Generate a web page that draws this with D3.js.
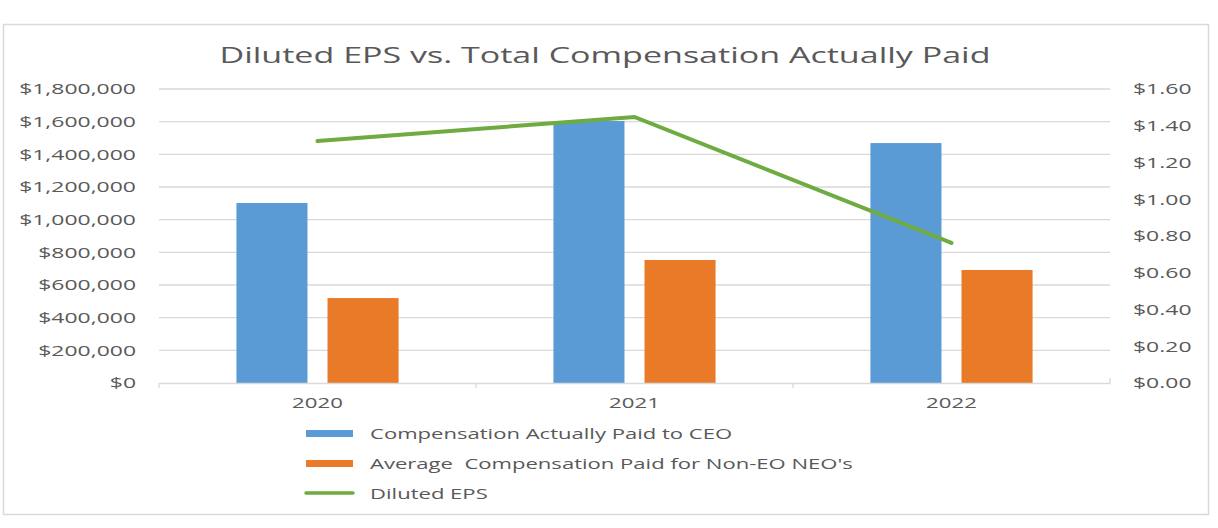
<!DOCTYPE html>
<html>
<head>
<meta charset="utf-8">
<script src="https://cdn.jsdelivr.net/npm/d3@7"></script>
<style>
  body { margin: 0; background: #fff; }
  text { font-family: "Open Sans", sans-serif; fill: #595959; white-space: pre; }
</style>
</head>
<body>
<div id="chart"></div>
<script>
// Data
const years = ["2020", "2021", "2022"];
const ceoPaid = [1102000, 1604000, 1469000];
const neoPaid = [520000, 753000, 692000];
const eps = [1.317, 1.448, 0.762];
const leftTicks = [0, 200000, 400000, 600000, 800000, 1000000, 1200000, 1400000, 1600000, 1800000];
const rightTicks = [0, 0.2, 0.4, 0.6, 0.8, 1.0, 1.2, 1.4, 1.6];
const seriesNames = ["Compensation Actually Paid to CEO", "Average  Compensation Paid for Non-EO NEO's", "Diluted EPS"];

const width = 1218, height = 528;
const blue = "#5B9BD5", orange = "#E87A28", green = "#6EAB40";

const svg = d3.select("#chart")
    .append("svg")
    .attr("width", width)
    .attr("height", height);

// outer frame
svg.append("rect")
    .attr("x", 3.5).attr("y", 24.5)
    .attr("width", 1205).attr("height", 490)
    .attr("fill", "none")
    .attr("stroke", "#d9d9d9")
    .attr("stroke-width", 1.5);

const plot = { left: 159, right: 1110, top: 89, bottom: 383 };

const x = d3.scaleBand()
    .domain(years)
    .range([plot.left, plot.right]);

const yLeft = d3.scaleLinear()
    .domain([0, 1800000])
    .range([plot.bottom, plot.top]);

const yRight = d3.scaleLinear()
    .domain([0, 1.6])
    .range([plot.bottom, plot.top]);

// the picture's text is stretched sideways, so widen glyphs by a factor
const widen = (k) => (sel) => sel.each(function () {
    const len = this.getComputedTextLength();
    d3.select(this).attr("textLength", len * k).attr("lengthAdjust", "spacingAndGlyphs");
});

// gridlines
svg.append("g")
    .selectAll("line")
    .data(leftTicks.slice(1))
    .enter().append("line")
    .attr("x1", plot.left).attr("x2", plot.right)
    .attr("y1", d => yLeft(d)).attr("y2", d => yLeft(d))
    .attr("stroke", "#d9d9d9")
    .attr("stroke-width", 1.3);

// left axis
const leftAxis = svg.append("g")
    .attr("transform", `translate(${plot.left},0)`)
    .call(d3.axisLeft(yLeft).tickValues(leftTicks).tickSize(0).tickPadding(23)
        .tickFormat(d => "$" + d3.format(",")(d)));
leftAxis.select(".domain").remove();
leftAxis.selectAll("text")
    .style("font-size", "15px")
    .attr("fill", "#595959")
    .call(widen(1.53));

// right axis
const rightAxis = svg.append("g")
    .attr("transform", `translate(${plot.right},0)`)
    .call(d3.axisRight(yRight).tickValues(rightTicks).tickSize(0).tickPadding(23)
        .tickFormat(d => "$" + d3.format(".2f")(d)));
rightAxis.select(".domain").remove();
rightAxis.selectAll("text")
    .style("font-size", "15px")
    .attr("fill", "#595959")
    .call(widen(1.53));

// bars
const inner = d3.scaleBand()
    .domain(["ceo", "neo"])
    .range([0, x.bandwidth()])
    .paddingInner(0.22)
    .paddingOuter(0.85);

svg.append("g")
    .selectAll("rect")
    .data(years.map((y, i) => ({ y, v: ceoPaid[i] })))
    .enter().append("rect")
    .attr("x", d => x(d.y) + inner("ceo"))
    .attr("y", d => yLeft(d.v))
    .attr("width", inner.bandwidth())
    .attr("height", d => plot.bottom - yLeft(d.v))
    .attr("fill", blue);

svg.append("g")
    .selectAll("rect")
    .data(years.map((y, i) => ({ y, v: neoPaid[i] })))
    .enter().append("rect")
    .attr("x", d => x(d.y) + inner("neo"))
    .attr("y", d => yLeft(d.v))
    .attr("width", inner.bandwidth())
    .attr("height", d => plot.bottom - yLeft(d.v))
    .attr("fill", orange);

// x axis baseline with category ticks
const xAxis = svg.append("g")
    .attr("transform", `translate(0,${plot.bottom})`)
    .call(d3.axisBottom(x).tickSize(0).tickPadding(14));
xAxis.select(".domain").attr("stroke", "#d9d9d9").attr("stroke-width", 1.3);
xAxis.selectAll("text")
    .style("font-size", "15px")
    .attr("fill", "#595959")
    .call(widen(1.48));
xAxis.selectAll(".sep")
    .data(years.slice(1))
    .enter().append("line")
    .attr("class", "sep")
    .attr("x1", d => x(d)).attr("x2", d => x(d))
    .attr("y1", 0).attr("y2", 5)
    .attr("stroke", "#d9d9d9").attr("stroke-width", 1.3);
xAxis.append("line")
    .attr("x1", plot.left).attr("x2", plot.left).attr("y1", 0).attr("y2", 5)
    .attr("stroke", "#d9d9d9").attr("stroke-width", 1.3);
xAxis.append("line")
    .attr("x1", plot.right).attr("x2", plot.right).attr("y1", 0).attr("y2", -5)
    .attr("stroke", "#d9d9d9").attr("stroke-width", 1.3);

// EPS line
const line = d3.line()
    .x((d, i) => x(years[i]) + x.bandwidth() / 2)
    .y(d => yRight(d));

svg.append("path")
    .datum(eps)
    .attr("d", line)
    .attr("fill", "none")
    .attr("stroke", green)
    .attr("stroke-width", 4)
    .attr("stroke-linecap", "round");

// title
svg.append("text")
    .attr("x", 605)
    .attr("y", 63)
    .attr("text-anchor", "middle")
    .style("font-size", "22px")
    .text("Diluted EPS vs. Total Compensation Actually Paid")
    .attr("textLength", 771)
    .attr("lengthAdjust", "spacingAndGlyphs");

// legend
const legend = svg.append("g")
    .attr("transform", "translate(306,433)");

const items = legend.selectAll("g")
    .data(seriesNames)
    .enter().append("g")
    .attr("transform", (d, i) => `translate(0,${i * 30})`);

items.append("rect")
    .filter((d, i) => i < 2)
    .attr("x", 0).attr("y", -3)
    .attr("width", 47).attr("height", 7)
    .attr("fill", (d, i) => i === 0 ? blue : orange);

items.filter((d, i) => i === 2)
    .append("line")
    .attr("x1", 0).attr("x2", 47)
    .attr("y1", 0).attr("y2", 0)
    .attr("stroke", green)
    .attr("stroke-width", 3.5)
    .attr("stroke-linecap", "round");

items.append("text")
    .attr("x", 64)
    .attr("y", 6)
    .style("font-size", "15px")
    .text(d => d)
    .call(widen(1.47));
</script>
</body>
</html>
